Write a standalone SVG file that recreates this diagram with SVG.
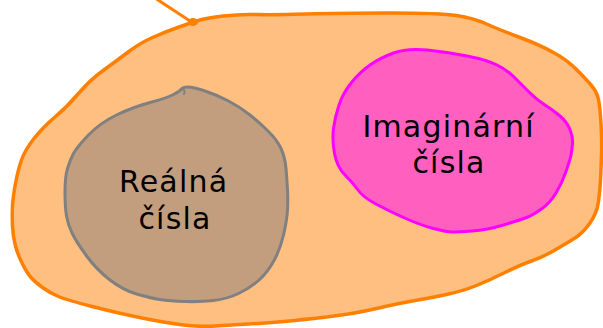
<svg xmlns="http://www.w3.org/2000/svg" width="603" height="328" viewBox="0 0 603 328">
<style>
.lbl{font-family:"DejaVu Sans","Liberation Sans",sans-serif;font-size:30px;fill:#000;text-anchor:middle;letter-spacing:1.2px}
.blob{stroke-linejoin:round;stroke-linecap:round}
</style>
<rect width="603" height="328" fill="#fff"/>
<g id="complex">
<path class="blob" fill="#FFBF80" stroke="#FF8000" stroke-width="3.5" d="M179,27 Q193,22 200,20 Q207,18 223.5,16 Q240,14 256.5,14.5 Q273,15 306.5,14 Q340,13 390,13 Q440,13 456.5,15.5 Q473,18 486.5,24 Q500,30 520,37.5 Q540,45 553.5,52.5 Q567,60 576,69 Q585,78 591,85 Q597,92 598.5,99.5 Q600,107 601,123.5 Q602,140 601.5,155 Q601,170 600.5,180 Q600,190 598.5,201.5 Q597,213 590,223 Q583,233 575,238 Q567,243 555,250 Q543,257 531.5,261 Q520,265 505,272.5 Q490,280 476.5,285.5 Q463,291 446.5,294.5 Q430,298 415,300.5 Q400,303 376.5,308.5 Q353,314 326.5,317 Q300,320 283.5,321.5 Q267,323 248.5,324 Q230,325 215,326 Q200,327 183.5,325 Q167,323 142,318 Q117,313 92,306.5 Q67,300 58.5,296.5 Q50,293 42.5,287.5 Q35,282 31,277.5 Q27,273 22.5,264 Q18,255 15.5,246 Q13,237 12.5,226 Q12,215 12.5,206 Q13,197 15.5,183.5 Q18,170 21.5,160 Q25,150 34,138.5 Q43,127 55,117 Q67,107 78.5,93.5 Q90,80 102.5,71 Q115,62 127.5,52.5 Q140,43 152.5,37.5 Q165,32 179,27 Z"/>
</g>
<g id="real">
<path class="blob" fill="#C29E7F" stroke="#808080" stroke-width="3" d="M181.5,89 Q183,87 188,87 Q193,87 205,91 Q217,95 228.5,101 Q240,107 250,115 Q260,123 268.5,131.5 Q277,140 281,148.5 Q285,157 286,168.5 Q287,180 287.5,190 Q288,200 287.5,210 Q287,220 283.5,235 Q280,250 273.5,261.5 Q267,273 258.5,280.5 Q250,288 238.5,293.5 Q227,299 213.5,300.5 Q200,302 185,301.5 Q170,301 160,299.5 Q150,298 136.5,294 Q123,290 110,280 Q97,270 87,256.5 Q77,243 72.5,234 Q68,225 66.5,216 Q65,207 65,192 Q65,177 67.5,168.5 Q70,160 73.5,153.5 Q77,147 88.5,135 Q100,123 116.5,115 Q133,107 150,102.5 Q167,98 173.5,94.5 Q180,91 181.5,89 Z"/>
<path class="blob" fill="none" stroke="#808080" stroke-width="2" d="M181,89 Q186,89 184,94"/>
<text class="lbl" x="173.6" y="192">Reálná</text>
<text class="lbl" x="175" y="229">čísla</text>
</g>
<g id="imaginary">
<path class="blob" fill="#FF5FBF" stroke="#FF00FF" stroke-width="3" d="M370,65 Q380,58 393.5,53 Q407,48 427,50 Q447,52 467,56 Q487,60 497,65 Q507,70 513.5,76.5 Q520,83 528.5,91.5 Q537,100 545,105 Q553,110 560,116 Q567,122 570,129.5 Q573,137 572.5,143.5 Q572,150 571,155 Q570,160 566,171.5 Q562,183 556,193 Q550,203 541.5,209 Q533,215 526.5,217.5 Q520,220 503.5,225 Q487,230 472,231 Q457,232 452,232 Q447,232 433.5,228.5 Q420,225 403.5,217.5 Q387,210 375,203.5 Q363,197 358,190 Q353,183 345,175 Q337,167 334.5,153.5 Q332,140 333.5,128.5 Q335,117 339,105 Q343,93 351.5,82.5 Q360,72 370,65 Z"/>
<text class="lbl" x="448.6" y="136.5">Imaginární</text>
<text class="lbl" x="449" y="173">čísla</text>
</g>
<g id="connectors">
<line x1="155" y1="-2" x2="190" y2="21" stroke="#FF8000" stroke-width="3" stroke-linecap="round"/>
<ellipse cx="193" cy="22" rx="5" ry="4" fill="#FF8000"/>
</g>
</svg>
